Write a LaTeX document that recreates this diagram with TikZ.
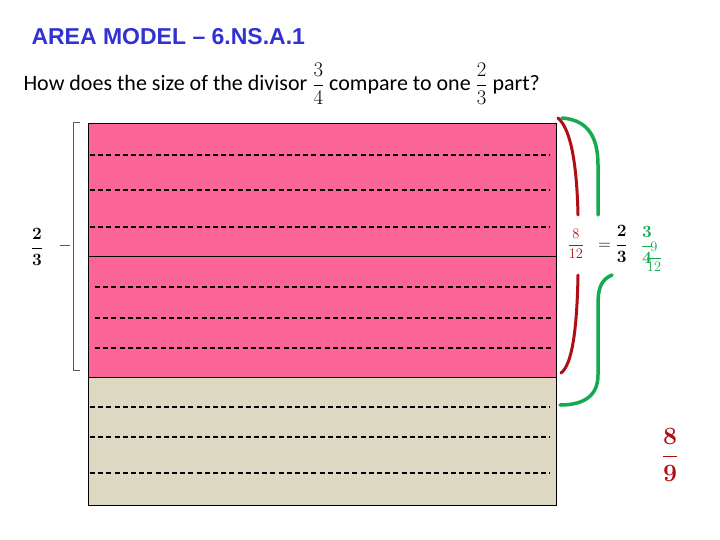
\documentclass[tikz,border=0pt]{standalone}
\usepackage{fontspec}
\usepackage{amsmath}
\setmainfont{Carlito}
\newfontfamily\titlefont{Liberation Sans}
\definecolor{pinkf}{RGB}{250,100,150}
\definecolor{beigef}{RGB}{221,216,194}
\definecolor{darkred}{RGB}{175,15,20}
\definecolor{brgreen}{RGB}{20,170,80}
\definecolor{titleblue}{RGB}{50,50,210}
\begin{document}
\begin{tikzpicture}[x=1pt,y=-1pt,
  dashline/.style={line width=1.6pt,dash pattern=on 5pt off 3.2pt},
  bracefill/.style={line width=3.5pt,line cap=round}]
\useasboundingbox (0,0) rectangle (720,540);
\fill[white] (0,0) rectangle (720,540);
\node[anchor=west,font=\titlefont\bfseries\fontsize{23}{26}\selectfont,text=titleblue] (title) at (28,37) {AREA MODEL – 6.NS.A.1};
\node[anchor=west,font=\fontsize{22}{26}\selectfont] (q) at (20,84) {How does the size of the divisor $\dfrac{3}{4}$ compare to one $\dfrac{2}{3}$ part?};
\fill[pinkf] (88,124) rectangle (556,377);
\fill[beigef] (88,377) rectangle (556,505);
\draw[line width=1pt] (88,124) rectangle (556,505);
\draw[line width=1pt] (88,256) -- (556,256);
\draw[line width=1pt] (88,377) -- (556,377);
\foreach \y in {155,190,227} \draw[dashline] (90,\y) -- (550,\y);
\foreach \y in {287,318,348} \draw[dashline] (95,\y) -- (553,\y);
\foreach \y in {407,437,473} \draw[dashline] (90,\y) -- (550,\y);
% left bracket
\draw[line width=0.6pt,gray!70!black] (80,122) -- (73,122) -- (73,370) -- (80,370);
\draw[line width=0.6pt,gray!70!black] (60,245) -- (70,245);
\node[font=\fontsize{18}{22}\selectfont] (lf) at (37,247) {$\boldsymbol{\dfrac{2}{3}}$};
% braces
\draw[bracefill,darkred,line width=3pt] (558,118) .. controls (572,130) and (577,170) .. (578,215);
\draw[bracefill,darkred,line width=3pt] (578,275) .. controls (577,330) and (572,365) .. (561,373);
\draw[bracefill,brgreen] (562,118) .. controls (590,120) and (598,140) .. (598,165) -- (598,215);
\draw[bracefill,brgreen] (612,275) .. controls (600,280) and (598,290) .. (598,305) -- (598,375) .. controls (598,395) and (585,405) .. (560,405);
\node[font=\fontsize{15}{18}\selectfont,text=darkred,inner sep=0pt] (f1) at (576,244) {$\dfrac{8}{12}$};
\node[font=\fontsize{18}{22}\selectfont,inner sep=0pt] (eq) at (613,244) {$=\boldsymbol{\dfrac{2}{3}}$};
\node[font=\fontsize{16}{20}\selectfont,text=brgreen,inner sep=0pt] (f2) at (647,245) {$\boldsymbol{\dfrac{3}{4}}$};
\node[font=\fontsize{14}{18}\selectfont,text=brgreen,inner sep=0pt] (f3) at (654,257) {$\dfrac{9}{12}$};
\node[font=\fontsize{26}{30}\selectfont,text=darkred] (ans) at (670,455) {$\boldsymbol{\dfrac{8}{9}}$};
\end{tikzpicture}
\end{document}
